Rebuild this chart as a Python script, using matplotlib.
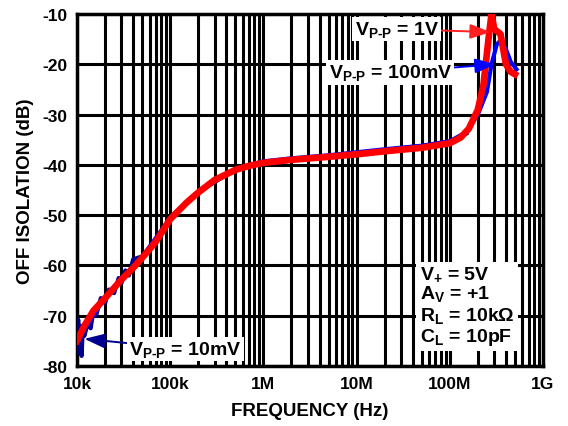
import matplotlib
matplotlib.use("Agg")
import matplotlib.pyplot as plt
from matplotlib.ticker import FixedLocator, LogLocator, NullFormatter

plt.rcParams["font.family"] = ["Liberation Sans", "DejaVu Sans"]
plt.rcParams["font.weight"] = "bold"
plt.rcParams["axes.unicode_minus"] = False
plt.rcParams["mathtext.fontset"] = "custom"
plt.rcParams["mathtext.rm"] = "Liberation Sans:bold"
plt.rcParams["mathtext.bf"] = "Liberation Sans:bold"
plt.rcParams["mathtext.it"] = "Liberation Sans:bold"
plt.rcParams["mathtext.default"] = "bf"

# 1V curve (red)
freq_1v = [1e4, 1.2e4, 1.5e4, 2e4, 3e4, 4e4, 5e4, 7e4, 1e5, 1.5e5, 2e5, 3e5,
           5e5, 7e5, 1e6, 2e6, 5e6, 1e7, 2e7, 5e7, 1e8, 1.3e8, 1.6e8, 2e8,
           2.3e8, 2.6e8, 2.8e8, 3.0e8, 3.5e8, 4e8, 4.5e8, 5e8]
iso_1v = [-75, -72, -69, -66.5, -62.8, -60.5, -58.5, -55.3, -50.8, -47.5, -45.5, -43,
          -41, -40.2, -39.6, -39.0, -38.4, -37.9, -37.3, -36.6, -35.7, -34.6, -32.8, -29,
          -24, -15, -10, -13, -14, -20, -21.5, -22]

# 100mV curve (blue)
freq_100mv = [1e4, 2e4, 5e4, 1e5, 2e5, 5e5, 1e6, 2e6, 5e6, 1e7, 2e7, 5e7, 1e8,
              1.5e8, 2e8, 2.5e8, 2.8e8, 3.2e8, 3.5e8, 4e8, 4.5e8, 5.2e8]
iso_100mv = [-75, -66.3, -58.3, -50.6, -45.3, -40.8, -39.3, -38.7, -38.1, -37.5, -36.9,
             -36.2, -35.3, -33.5, -30, -25.5, -20, -16, -15.3, -17, -19.5, -21]

# 10mV curve (navy)
freq_10mv = [1e4, 1.03e4, 1.06e4, 1.09e4, 1.12e4, 1.15e4, 1.2e4, 1.3e4, 1.4e4,
             1.5e4, 1.6e4, 1.8e4, 2e4, 2.2e4, 2.5e4, 2.8e4, 3e4, 3.3e4, 3.6e4, 4e4,
             5e4, 7e4, 1e5, 2e5, 5e5, 1e6, 1e7, 1e8, 1.5e8]
iso_10mv = [-74.5, -70.8, -77.5, -72, -78, -73, -74, -71.5, -72.5, -69, -70, -66.5,
            -67.5, -64.8, -65.5, -62.5, -63.5, -61, -62, -58.8,
            -58.2, -55, -50.5, -45.4, -40.9, -39.5, -37.7, -35.6, -33.8]

x_ticks = [1e4, 1e5, 1e6, 1e7, 1e8, 1e9]
x_labels = ["10k", "100k", "1M", "10M", "100M", "1G"]
y_ticks = [-80, -70, -60, -50, -40, -30, -20, -10]

fig = plt.figure(figsize=(5.68, 4.27), dpi=100)
ax = fig.add_axes([0.1356, 0.1405, 0.8204, 0.8244])

ax.plot(freq_10mv, iso_10mv, color="#000090", lw=3, zorder=3)
ax.plot(freq_100mv, iso_100mv, color="#0000ff", lw=3, zorder=4)
ax.plot(freq_1v, iso_1v, color="#ff0000", lw=4.8, zorder=5)

ax.set_xscale("log")
ax.set_xlim(1e4, 1e9)
ax.set_ylim(-80, -10)
ax.xaxis.set_major_locator(FixedLocator(x_ticks))
ax.set_xticklabels(x_labels)
ax.xaxis.set_minor_locator(LogLocator(base=10, subs=range(2, 10)))
ax.xaxis.set_minor_formatter(NullFormatter())
ax.set_yticks(y_ticks)
ax.tick_params(which="both", length=0, labelsize=12.5, pad=7)
for lab in ax.get_xticklabels() + ax.get_yticklabels():
    lab.set_fontweight("bold")

ax.grid(which="major", axis="both", color="black", lw=2.2, zorder=1)
ax.grid(which="minor", axis="x", color="black", lw=2.2, zorder=1)
for sp in ax.spines.values():
    sp.set_linewidth(2.5)

ax.set_xlabel("FREQUENCY (Hz)", fontsize=13.5, fontweight="bold", labelpad=8)
ax.set_ylabel("OFF ISOLATION (dB)", fontsize=13.5, fontweight="bold", labelpad=6)

box = dict(boxstyle="square,pad=0.12", fc="white", ec="none")
head = "-|>,head_length=0.9,head_width=0.32"
ax.annotate(r"V$_{\text{P-P}}$ = 1V", xy=(2.75e8, -13.6), xytext=(2.7e7, -13),
            ha="center", va="center", fontsize=14, fontweight="bold", bbox=box,
            zorder=6,
            arrowprops=dict(arrowstyle=head, color="#ff2020", lw=1.4,
                            shrinkA=0, shrinkB=0))
ax.annotate(r"V$_{\text{P-P}}$ = 100mV", xy=(3.1e8, -20), xytext=(2.3e7, -21.6),
            ha="center", va="center", fontsize=14, fontweight="bold", bbox=box,
            zorder=6,
            arrowprops=dict(arrowstyle=head, color="#0000ff", lw=1.4,
                            shrinkA=0, shrinkB=0))
ax.annotate(r"V$_{\text{P-P}}$ = 10mV", xy=(1.2e4, -74.6), xytext=(1.45e5, -76.6),
            ha="center", va="center", fontsize=14, fontweight="bold", bbox=box,
            zorder=6,
            arrowprops=dict(arrowstyle=head, color="#000090", lw=1.4,
                            shrinkA=0, shrinkB=0))

ax.text(0.735, 0.29,
        "V$_{+}$ = 5V\nA$_{V}$ = +1\nR$_{L}$ = 10k\u03a9\nC$_{L}$ = 10pF",
        transform=ax.transAxes, ha="left", va="top", fontsize=14,
        fontweight="bold", linespacing=1.1, zorder=6,
        bbox=dict(boxstyle="square,pad=0.2", fc="white", ec="none"))

fig.savefig("out.png", dpi=100)
